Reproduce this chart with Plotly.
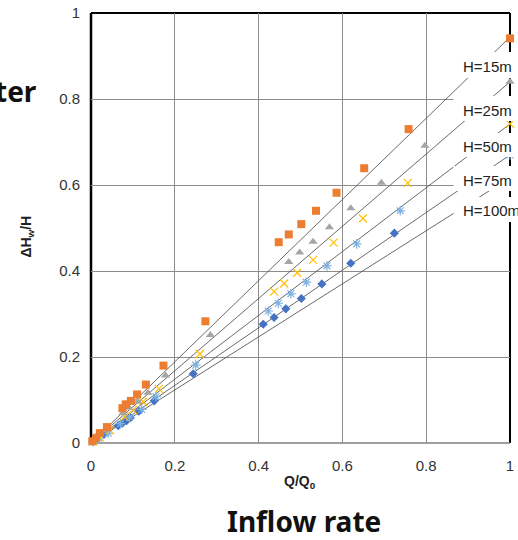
import plotly.graph_objects as go

# ---------------- data ----------------
series_names = ["H=15m", "H=25m", "H=50m", "H=75m", "H=100m"]

h15_x = [0.003, 0.012, 0.021, 0.038, 0.075, 0.083, 0.095, 0.110, 0.131, 0.173, 0.273,
         0.448, 0.472, 0.502, 0.537, 0.586, 0.652, 0.758, 1.0]
h15_y = [0.004, 0.012, 0.023, 0.037, 0.081, 0.090, 0.098, 0.113, 0.136, 0.180, 0.283,
         0.467, 0.485, 0.509, 0.540, 0.582, 0.639, 0.730, 0.941]

h25_x = [0.005, 0.013, 0.037, 0.076, 0.090, 0.112, 0.136, 0.178, 0.285, 0.472, 0.498,
         0.530, 0.569, 0.620, 0.693, 0.797, 1.0]
h25_y = [0.004, 0.013, 0.030, 0.069, 0.082, 0.096, 0.117, 0.157, 0.251, 0.421, 0.443,
         0.468, 0.502, 0.546, 0.605, 0.691, 0.840]

h50_x = [0.005, 0.021, 0.045, 0.080, 0.100, 0.124, 0.162, 0.260, 0.437, 0.461, 0.492,
         0.530, 0.579, 0.649, 0.756, 1.0]
h50_y = [0.004, 0.013, 0.030, 0.061, 0.077, 0.096, 0.126, 0.207, 0.352, 0.371, 0.396,
         0.426, 0.466, 0.522, 0.605, 0.742]

h75_x = [0.005, 0.018, 0.041, 0.070, 0.092, 0.121, 0.155, 0.250, 0.423, 0.447, 0.477,
         0.514, 0.563, 0.634, 0.738, 1.0]
h75_y = [0.003, 0.011, 0.023, 0.045, 0.060, 0.078, 0.108, 0.181, 0.307, 0.325, 0.347,
         0.374, 0.412, 0.463, 0.540, 0.670]

h100_x = [0.005, 0.012, 0.031, 0.065, 0.075, 0.085, 0.094, 0.114, 0.151, 0.244, 0.411,
          0.437, 0.465, 0.502, 0.551, 0.620, 0.724]
h100_y = [0.004, 0.008, 0.020, 0.040, 0.046, 0.052, 0.059, 0.074, 0.098, 0.161, 0.276,
          0.292, 0.312, 0.336, 0.370, 0.418, 0.488]

# slopes of the reference lines through the origin (value at Q/Q0 = 1)
line_slopes = [0.944, 0.840, 0.742, 0.670, 0.617]
line_x = [0.0, 1.0]

tick_vals = [0, 0.2, 0.4, 0.6, 0.8, 1]
tick_text = ["0", "0.2", "0.4", "0.6", "0.8", "1"]

x_title = "Q/Q<sub>0</sub>"
y_title = "ΔH<sub>w</sub>/H"
bottom_caption = "Inflow rate"
left_fragment = "ter"

# ---------------- styles ----------------
colors = ["#ED7D31", "#A5A5A5", "#FFC000", "#7EB0E0", "#4472C4"]
symbols = ["square", "triangle-up", "x-thin-open", "asterisk-open", "diamond"]
sizes = [8, 8, 8, 8, 7]

W, H = 518, 540
L, R, T, B = 91, 4, 13, 97
PW, PH = W - L - R, H - T - B


def px(xp):
    return (xp - L) / PW


def py(yp):
    return (H - B - yp) / PH


fig = go.Figure()

# reference lines
for s in line_slopes:
    fig.add_trace(go.Scatter(
        x=line_x, y=[s * v for v in line_x], mode="lines",
        line=dict(color="#595959", width=0.9), showlegend=False, hoverinfo="skip"))

all_x = [h15_x, h25_x, h50_x, h75_x, h100_x]
all_y = [h15_y, h25_y, h50_y, h75_y, h100_y]
order = [4, 3, 2, 1, 0]
for i in order:
    sym = symbols[i]
    marker = dict(color=colors[i], symbol=sym, size=sizes[i])
    if sym.endswith("open"):
        marker["line"] = dict(color=colors[i], width=1.2)
    fig.add_trace(go.Scatter(
        x=all_x[i], y=all_y[i], mode="markers", name=series_names[i],
        marker=marker, cliponaxis=False, showlegend=False))

shapes = []
# plot-area border
shapes.append(dict(type="line", xref="paper", yref="paper", x0=0, x1=1, y0=1, y1=1,
                   line=dict(color="black", width=2), layer="between"))
shapes.append(dict(type="line", xref="paper", yref="paper", x0=0, x1=0, y0=0, y1=1,
                   line=dict(color="black", width=2.5), layer="between"))
shapes.append(dict(type="line", xref="paper", yref="paper", x0=1, x1=1, y0=0, y1=1,
                   line=dict(color="black", width=2), layer="between"))
shapes.append(dict(type="line", xref="paper", yref="paper", x0=0, x1=1, y0=0, y1=0,
                   line=dict(color="#7f7f7f", width=1.5), layer="between"))

# white label boxes (pixel extents)
boxes = [(52, 78), (96, 121), (133, 157), (166, 191), (197, 222)]
for (t, b) in boxes:
    shapes.append(dict(type="rect", xref="paper", yref="paper",
                       x0=px(457), x1=px(530), y0=py(b), y1=py(t),
                       fillcolor="white", line=dict(width=0), layer="above"))

annotations = []
label_centers = [67, 110, 147, 180, 211]
for name, c in zip(series_names, label_centers):
    annotations.append(dict(text=name, xref="paper", yref="paper", x=px(465), y=py(c),
                            xanchor="left", yanchor="middle", showarrow=False,
                            font=dict(family="Liberation Sans", size=15, color="#222")))

annotations.append(dict(text=x_title, xref="paper", yref="paper", x=px(302), y=py(482),
                        xanchor="center", yanchor="middle", showarrow=False,
                        font=dict(family="Liberation Sans", size=14, color="#222", weight="bold")))
annotations.append(dict(text=y_title, xref="paper", yref="paper", x=px(26), y=py(237),
                        xanchor="center", yanchor="middle", showarrow=False, textangle=-90,
                        font=dict(family="Liberation Sans", size=14, color="#222", weight="bold")))
annotations.append(dict(text=bottom_caption, xref="paper", yref="paper", x=px(306), y=py(521),
                        xanchor="center", yanchor="middle", showarrow=False,
                        font=dict(family="Noto Sans", size=28, color="#111", weight="bold")))
annotations.append(dict(text=left_fragment, xref="paper", yref="paper", x=px(39), y=py(91),
                        xanchor="right", yanchor="middle", showarrow=False,
                        font=dict(family="Noto Sans", size=28, color="#111", weight="bold")))

axis_common = dict(range=[0, 1], tickvals=tick_vals, ticktext=tick_text,
                   showgrid=True, gridcolor="#8c8c8c", gridwidth=1,
                   zeroline=False, showline=False, ticks="", ticklabeloverflow="allow",
                   tickfont=dict(family="Liberation Sans", size=15, color="#333"))

fig.update_layout(
    width=W, height=H, autosize=False,
    margin=dict(l=L, r=R, t=T, b=B),
    paper_bgcolor="white", plot_bgcolor="white",
    xaxis=dict(**axis_common, ticklabelstandoff=12),
    yaxis=dict(**axis_common, ticklabelstandoff=10),
    shapes=shapes, annotations=annotations, showlegend=False,
)

fig.write_html("out.html", config={"displayModeBar": False},
               post_script="document.body.style.margin='0';document.body.style.overflow='hidden';")
